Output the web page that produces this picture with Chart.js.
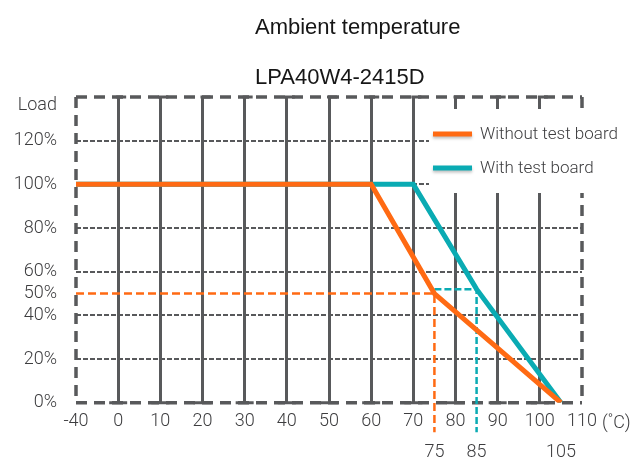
<!DOCTYPE html>
<html>
<head>
<meta charset="utf-8">
<script src="https://cdn.jsdelivr.net/npm/chart.js@4.4.1/dist/chart.umd.min.js"></script>
<style>
  html, body { margin: 0; padding: 0; background: #ffffff; }
  #wrap { width: 641px; height: 461px; position: relative; }
</style>
</head>
<body>
<div id="wrap"><canvas id="derating-chart"></canvas></div>
<script>
// axis ticks
const xTicks = [-40, 0, 10, 20, 30, 40, 50, 60, 70, 80, 90, 100, 110];
const markTicks = [75, 85, 105];
const yTicks = [0, 20, 40, 50, 60, 80, 100, 120];
const yLoadTick = 136;
const yMax = 140;

// derating curves (temperature in C, load in %)
const tempNoBoard = [-40, 60, 75, 105];
const loadNoBoard = [100, 100, 50, 0];
const tempBoard = [-40, 70, 85, 105];
const loadBoard = [100, 100, 52, 0];

// guide lines down to the marked temperatures
const guideNoBoardX = [-40, 75, 75];
const guideNoBoardY = [50, 50, -13.5];
const guideBoardX = [75, 85, 85];
const guideBoardY = [52, 52, -13.5];

const seriesNames = ['Without test board', 'With test board'];
const titleLines = ['Ambient temperature', 'LPA40W4-2415D'];

const ORANGE = '#ff6a13';
const TEAL = '#0aabb3';
const GRID = '#58595b';
const TEXT = '#3d3d3f';

function toPoints(xs, ys) {
  return xs.map((x, i) => ({x: x, y: ys[i]}));
}

// linear scale where the part below 0 is squeezed (-40 sits one step left of 0)
class SplitScale extends Chart.LinearScale {
  getPixelForValue(value) {
    return super.getPixelForValue(value < 0 ? value / 4 : value);
  }
  getValueForPixel(pixel) {
    const v = super.getValueForPixel(pixel);
    return v < 0 ? v * 4 : v;
  }
}
SplitScale.id = 'split';
SplitScale.defaults = Chart.LinearScale.defaults;
Chart.register(SplitScale);

Chart.defaults.font.family = 'Roboto';

const frameAndLegendPlugin = {
  id: 'frameAndLegend',
  beforeDatasetsDraw(chart) {
    const {ctx, chartArea} = chart;
    const {left, right, top, bottom} = chartArea;
    ctx.save();
    ctx.strokeStyle = GRID;
    ctx.lineWidth = 3.5;
    ctx.setLineDash([11, 7]);
    ctx.beginPath();
    ctx.moveTo(left, top); ctx.lineTo(right, top);
    ctx.moveTo(left, top); ctx.lineTo(left, bottom);
    ctx.moveTo(left, bottom); ctx.lineTo(right, bottom);
    ctx.moveTo(right, top); ctx.lineTo(right, bottom);
    ctx.stroke();

    // small caps on the ends of the solid temperature lines
    ctx.setLineDash([]);
    ctx.lineWidth = 3;
    const xs = chart.scales.x;
    ctx.beginPath();
    xs.ticks.forEach((t) => {
      if (t.value === -40 || t.value === 110) return;
      const px = xs.getPixelForValue(t.value);
      ctx.moveTo(px - 9, bottom); ctx.lineTo(px + 9, bottom);
      ctx.moveTo(px - 2, top); ctx.lineTo(px + 8, top);
    });
    ctx.stroke();
    ctx.restore();
  },
  afterDraw(chart) {
    const {ctx} = chart;
    ctx.save();

    // titles
    ctx.fillStyle = '#161616';
    ctx.font = '22px "Liberation Sans", Arial, sans-serif';
    ctx.textAlign = 'left';
    ctx.textBaseline = 'alphabetic';
    ctx.fillText(titleLines[0], 255, 34);
    ctx.fillText(titleLines[1], 255, 84);

    // unit after the last x label
    ctx.fillStyle = TEXT;
    ctx.font = '300 18px Roboto';
    ctx.textBaseline = 'middle';
    ctx.fillText('(\u02DAC)', 602, 423);

    // legend box sitting over the plot
    ctx.fillStyle = '#ffffff';
    ctx.fillRect(429, 109, 200, 84);
    const colors = [ORANGE, TEAL];
    const rows = [134, 168];
    seriesNames.forEach((name, i) => {
      ctx.save();
      ctx.shadowColor = 'rgba(0,0,0,0.25)';
      ctx.shadowBlur = 3;
      ctx.shadowOffsetY = 2;
      ctx.strokeStyle = colors[i];
      ctx.lineWidth = 5;
      ctx.setLineDash([]);
      ctx.beginPath();
      ctx.moveTo(433, rows[i]);
      ctx.lineTo(472, rows[i]);
      ctx.stroke();
      ctx.restore();
      ctx.fillStyle = TEXT;
      ctx.font = '300 17px Roboto';
      ctx.textBaseline = 'middle';
      ctx.fillText(name, 480, rows[i] + 1);
    });
    ctx.restore();
  }
};

new Chart(document.getElementById('derating-chart'), {
  type: 'line',
  data: {
    datasets: [
      {
        label: seriesNames[0],
        data: toPoints(tempNoBoard, loadNoBoard),
        borderColor: ORANGE,
        borderWidth: 5,
        pointRadius: 0,
        tension: 0
      },
      {
        label: seriesNames[1],
        data: toPoints(tempBoard, loadBoard),
        borderColor: TEAL,
        borderWidth: 5,
        pointRadius: 0,
        tension: 0
      },
      {
        label: 'guide1',
        data: toPoints(guideNoBoardX, guideNoBoardY),
        borderColor: ORANGE,
        borderWidth: 2.5,
        borderDash: [8, 4],
        pointRadius: 0,
        clip: false
      },
      {
        label: 'guide2',
        data: toPoints(guideBoardX, guideBoardY),
        borderColor: TEAL,
        borderWidth: 2.5,
        borderDash: [7, 3],
        pointRadius: 0,
        clip: false
      }
    ]
  },
  options: {
    responsive: true,
    maintainAspectRatio: false,
    animation: false,
    layout: {
      padding: {top: 97, right: 59, bottom: 0, left: 0}
    },
    plugins: {
      legend: {display: false},
      tooltip: {enabled: false}
    },
    scales: {
      x: {
        type: 'split',
        position: 'bottom',
        weight: 0,
        min: -10,
        max: 110,
        afterBuildTicks(scale) {
          scale.ticks = xTicks.map(v => ({value: v}));
        },
        afterFit(scale) {
          scale.height = 30;
        },
        ticks: {
          padding: 8,
          color: TEXT,
          font: {size: 18, weight: 300},
          maxRotation: 0,
          autoSkip: false,
          callback(value) {
            return String(value);
          }
        },
        grid: {
          drawTicks: false,
          lineWidth: 3,
          color(ctx) {
            const v = ctx.tick && ctx.tick.value;
            return (v === -40 || v === 110) ? 'rgba(0,0,0,0)' : GRID;
          }
        },
        border: {display: false}
      },
      x2: {
        type: 'split',
        position: 'bottom',
        weight: 1,
        min: -10,
        max: 110,
        afterBuildTicks(scale) {
          scale.ticks = markTicks.map(v => ({value: v}));
        },
        afterFit(scale) {
          scale.height = 28.3;
        },
        ticks: {
          padding: 9,
          color: TEXT,
          font: {size: 18, weight: 300},
          maxRotation: 0,
          autoSkip: false,
          callback(value) {
            return String(value);
          }
        },
        grid: {display: false, drawTicks: false},
        border: {display: false}
      },
      y: {
        type: 'linear',
        min: 0,
        max: yMax,
        afterBuildTicks(scale) {
          scale.ticks = yTicks.concat([yLoadTick, yMax]).map(v => ({value: v}));
        },
        afterFit(scale) {
          scale.width = 76;
        },
        ticks: {
          padding: 19,
          color: TEXT,
          font: {size: 18, weight: 300},
          autoSkip: false,
          callback(value) {
            if (value === yLoadTick) return 'Load';
            if (value === yMax) return '';
            return value + '%';
          }
        },
        grid: {
          drawTicks: false,
          lineWidth: 2,
          color(ctx) {
            const v = ctx.tick && ctx.tick.value;
            return (v === 0 || v === 50 || v === yLoadTick || v === yMax) ? 'rgba(0,0,0,0)' : GRID;
          }
        },
        border: {display: false, dash: [5, 2]}
      }
    }
  },
  plugins: [frameAndLegendPlugin]
});
</script>
</body>
</html>
